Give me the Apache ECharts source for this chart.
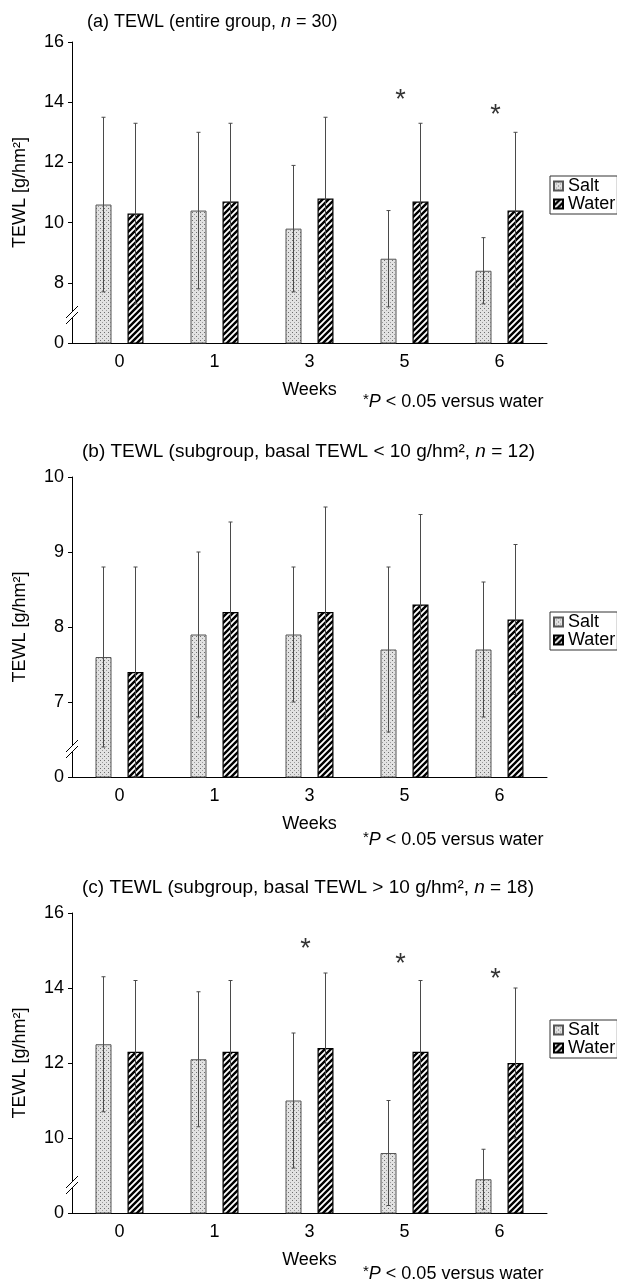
<!DOCTYPE html>
<html>
<head>
<meta charset="utf-8">
<script src="https://cdn.jsdelivr.net/npm/echarts@6/dist/echarts.min.js"></script>
<style>
  html, body { margin: 0; padding: 0; background: #fff; }
  #chart { width: 617px; height: 1282px; }
</style>
</head>
<body>
<div id="chart"></div>
<script>
// categories
var weeks = ['0', '1', '3', '5', '6'];

// (a) entire group
var aSaltMean = [10.6, 10.4, 9.8, 8.8, 8.4];
var aSaltSd = [2.9, 2.6, 2.1, 1.6, 1.1];
var aWaterMean = [10.3, 10.7, 10.8, 10.7, 10.4];
var aWaterSd = [3.0, 2.6, 2.7, 2.6, 2.6];
var aStars = [null, null, null, 14.3, 13.8];
var aTicks = ['0', '8', '10', '12', '14', '16'];

// (b) subgroup basal < 10
var bSaltMean = [7.6, 7.9, 7.9, 7.7, 7.7];
var bSaltSd = [1.2, 1.1, 0.9, 1.1, 0.9];
var bWaterMean = [7.4, 8.2, 8.2, 8.3, 8.1];
var bWaterSd = [1.4, 1.2, 1.4, 1.2, 1.0];
var bStars = [null, null, null, null, null];
var bTicks = ['0', '7', '8', '9', '10'];

// (c) subgroup basal > 10
var cSaltMean = [12.5, 12.1, 11.0, 9.6, 8.9];
var cSaltSd = [1.8, 1.8, 1.8, 1.4, 0.8];
var cWaterMean = [12.3, 12.3, 12.4, 12.3, 12.0];
var cWaterSd = [1.9, 1.9, 2.0, 1.9, 2.0];
var cStars = [null, null, 15.2, 14.8, 14.4];
var cTicks = ['0', '10', '12', '14', '16'];

var FONT = 'Liberation Sans, Arial, Helvetica, sans-serif';
var BAR_W = 16;

//patterns for the bars
function dotPattern() {
    var c = document.createElement('canvas');
    c.width = 4; c.height = 4;
    var g = c.getContext('2d');
    g.fillStyle = '#e2e2e2';
    g.fillRect(0, 0, 4, 4);
    g.fillStyle = '#6e6e6e';
    g.fillRect(0, 0, 1, 1);
    g.fillStyle = '#9a9a9a';
    g.fillRect(2, 2, 1, 1);
    return c;
}

function hatchPattern() {
    var s = 6;
    var c = document.createElement('canvas');
    c.width = s; c.height = s;
    var g = c.getContext('2d');
    g.fillStyle = '#fff';
    g.fillRect(0, 0, s, s);
    g.strokeStyle = '#000';
    g.lineWidth = 2.4;
    g.beginPath();
    g.moveTo(0, s); g.lineTo(s, 0);
    g.moveTo(-1, 1); g.lineTo(1, -1);
    g.moveTo(s - 1, s + 1); g.lineTo(s + 1, s - 1);
    g.stroke();
    return c;
}

var saltFill = { image: dotPattern(), repeat: 'repeat' };
var waterFill = { image: hatchPattern(), repeat: 'repeat' };

function errData(mean, sd, side) {
    var out = [];
    for (var i = 0; i < mean.length; i++) {
        out.push([i, +(mean[i] - sd[i]).toFixed(2), +(mean[i] + sd[i]).toFixed(2), side]);
    }
    return out;
}

function starData(stars) {
    var out = [];
    for (var i = 0; i < stars.length; i++) {
        if (stars[i] != null) out.push([i, stars[i]]);
    }
    return out;
}

function renderError(params, api) {
    var hi = api.coord([api.value(0), api.value(2)]);
    var lo = api.coord([api.value(0), api.value(1)]);
    var x = hi[0] + api.value(3) * BAR_W;
    var st = { stroke: '#4a4a4a', lineWidth: 1 };
    return {
        type: 'group',
        children: [
            { type: 'line', shape: { x1: x, y1: hi[1], x2: x, y2: lo[1] }, style: st },
            { type: 'line', shape: { x1: x - 2, y1: hi[1], x2: x + 2, y2: hi[1] }, style: st },
            { type: 'line', shape: { x1: x - 2, y1: lo[1], x2: x + 2, y2: lo[1] }, style: st }
        ]
    };
}

var grids = [
    { left: 72, width: 475, top: 42, height: 301 },
    { left: 72, width: 475, top: 477, height: 300 },
    { left: 72, width: 475, top: 913, height: 300 }
];

var panels = [
    { salt: aSaltMean, saltSd: aSaltSd, water: aWaterMean, waterSd: aWaterSd, stars: aStars, ticks: aTicks, min: 6, max: 16, interval: 2 },
    { salt: bSaltMean, saltSd: bSaltSd, water: bWaterMean, waterSd: bWaterSd, stars: bStars, ticks: bTicks, min: 6, max: 10, interval: 1 },
    { salt: cSaltMean, saltSd: cSaltSd, water: cWaterMean, waterSd: cWaterSd, stars: cStars, ticks: cTicks, min: 8, max: 16, interval: 2 }
];

var titleTexts = [
    '(a) TEWL (entire group, {i|n} = 30)',
    '(b) TEWL (subgroup, basal TEWL < 10 g/hm\u00b2, {i|n} = 12)',
    '(c) TEWL (subgroup, basal TEWL > 10 g/hm\u00b2, {i|n} = 18)'
];
var titleSize = [18, 19, 19];
var titlePos = [[87, 12], [82, 442], [82, 878]];
var notePos = [[363, 392], [363, 830], [363, 1264]];
var legendTop = [176, 612, 1020];

var xAxes = [], yAxes = [], series = [], titles = [], legends = [], graphics = [];

panels.forEach(function (p, k) {
    xAxes.push({
        type: 'category', gridIndex: k, data: weeks,
        axisLine: { lineStyle: { color: '#000', width: 1 } },
        axisTick: { length: 5, lineStyle: { color: '#000' } },
        axisLabel: { fontSize: 18, color: '#000', fontFamily: FONT, margin: 10 },
        name: 'Weeks', nameLocation: 'middle', nameGap: 38,
        nameTextStyle: { fontSize: 18, color: '#000', fontFamily: FONT }
    });
    xAxes.push({
        type: 'category', gridIndex: k, data: weeks,
        axisLine: { show: false },
        axisTick: { inside: true, length: 4, alignWithLabel: true, lineStyle: { color: '#000' } },
        axisLabel: { show: false }
    });
    yAxes.push({
        type: 'value', gridIndex: k, min: p.min, max: p.max, interval: p.interval,
        splitLine: { show: false },
        axisLine: { show: true, lineStyle: { color: '#000', width: 1 } },
        axisTick: { show: true, length: 4, lineStyle: { color: '#000' } },
        axisLabel: {
            fontSize: 18, color: '#000', fontFamily: FONT, margin: 8,
            formatter: (function (ticks) {
                return function (v, idx) { return ticks[idx]; };
            })(p.ticks)
        },
        name: 'TEWL [g/hm\u00b2]', nameLocation: 'middle', nameRotate: 90, nameGap: 43,
        nameTextStyle: { fontSize: 18, color: '#000', fontFamily: FONT }
    });

    series.push({
        name: 'Salt', type: 'bar', xAxisIndex: 2 * k, yAxisIndex: k,
        data: p.salt, barWidth: BAR_W, barGap: '100%',
        itemStyle: { color: saltFill, borderColor: '#555', borderWidth: 1 }
    });
    series.push({
        name: 'Water', type: 'bar', xAxisIndex: 2 * k, yAxisIndex: k,
        data: p.water, barWidth: BAR_W, barGap: '100%',
        itemStyle: { color: waterFill, borderColor: '#000', borderWidth: 1.2 }
    });
    series.push({
        type: 'custom', xAxisIndex: 2 * k, yAxisIndex: k, z: 5,
        renderItem: renderError, encode: { x: 0, y: [1, 2] },
        data: errData(p.salt, p.saltSd, -1).concat(errData(p.water, p.waterSd, 1))
    });
    series.push({
        type: 'scatter', xAxisIndex: 2 * k, yAxisIndex: k, z: 6,
        symbolSize: 1, itemStyle: { color: 'transparent' },
        data: starData(p.stars),
        label: {
            show: true, position: 'inside', formatter: '*', offset: [-4, 7],
            fontSize: 27, color: '#000', fontFamily: FONT
        }
    });

    titles.push({
        text: titleTexts[k], left: titlePos[k][0], top: titlePos[k][1], padding: 0,
        textStyle: {
            fontSize: titleSize[k], fontWeight: 'normal', color: '#000', fontFamily: FONT, lineHeight: 20,
            rich: { i: { fontStyle: 'italic', fontSize: titleSize[k], fontFamily: FONT, color: '#000', lineHeight: 20 } }
        }
    });
    titles.push({
        text: '{s|*}{i|P} < 0.05 versus water', left: notePos[k][0], top: notePos[k][1], padding: 0,
        textStyle: {
            fontSize: 18, fontWeight: 'normal', color: '#000', fontFamily: FONT, lineHeight: 20,
            rich: {
                s: { fontSize: 15, fontFamily: FONT, color: '#000', verticalAlign: 'top', lineHeight: 20 },
                i: { fontStyle: 'italic', fontSize: 18, fontFamily: FONT, color: '#000', lineHeight: 20 }
            }
        }
    });

    legends.push({
        data: ['Salt', 'Water'], orient: 'vertical', left: 550, top: legendTop[k],
        icon: 'rect', itemGap: 0, itemWidth: 9, itemHeight: 9, padding: [1, 2, 1, 3],
        borderColor: '#333', borderWidth: 1, selectedMode: false,
        textStyle: { fontSize: 18, color: '#000', fontFamily: FONT }
    });

    //axis break marks
    var b = grids[k].top + grids[k].height;
    graphics.push({ type: 'rect', shape: { x: 69, y: b - 31, width: 6, height: 6 }, style: { fill: '#fff' }, z: 100 });
    graphics.push({ type: 'line', shape: { x1: 66, y1: b - 25, x2: 78, y2: b - 37 }, style: { stroke: '#000', lineWidth: 1 }, z: 101 });
    graphics.push({ type: 'line', shape: { x1: 66, y1: b - 19, x2: 78, y2: b - 31 }, style: { stroke: '#000', lineWidth: 1 }, z: 101 });
});

var chart = echarts.init(document.getElementById('chart'));
chart.setOption({
    animation: false,
    backgroundColor: '#fff',
    textStyle: { fontFamily: FONT },
    title: titles,
    legend: legends,
    grid: grids,
    xAxis: xAxes,
    yAxis: yAxes,
    series: series,
    graphic: graphics
});
</script>
</body>
</html>
